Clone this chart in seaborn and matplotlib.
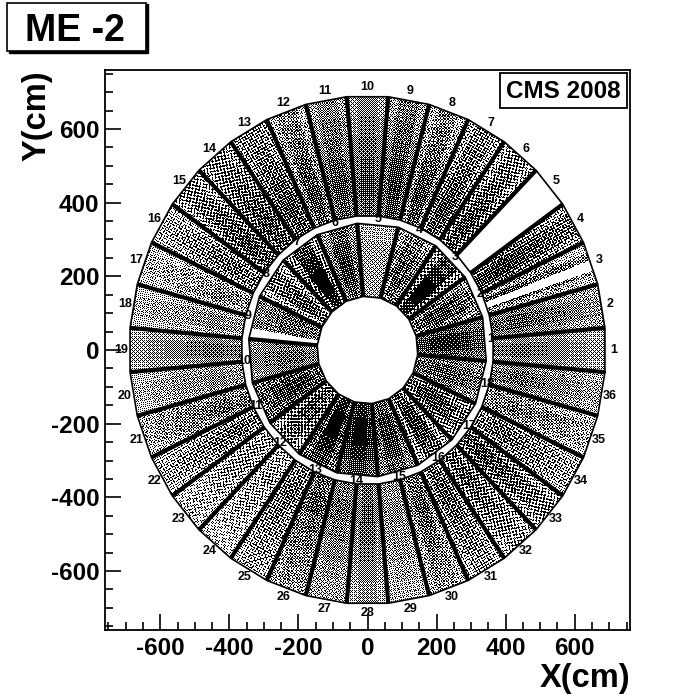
# ME -2 station occupancy, chamber rings drawn from per-chamber hit levels
import numpy as np
import pandas as pd
import matplotlib
matplotlib.use("Agg")
import matplotlib.pyplot as plt
from matplotlib.colors import ListedColormap
from matplotlib.patches import Rectangle
from matplotlib.ticker import MultipleLocator
import seaborn as sns

AX_LIMIT = 760
TICKS = [-600, -400, -200, 0, 200, 400, 600]

# ring geometry (cm)
OUTER_R_MAX = 690
OUTER_R_MIN = 365
INNER_R_MAX = 345
INNER_R_MIN = 146

# fraction of black per chamber: edges of the chamber and its central strip
outer_side = [.42, .45, .35, .50, 0, .45, .45, .42, .50, .50, .50, .42,
              .52, .50, .45, .38, .30, .30, .40, .35, .42, .38, .30, .28,
              .42, .50, .45, .42, .38, .40, .42, .42, .45, .42, .38, .42]
outer_core = [.50, .55, .60, .70, 0, .60, .65, .60, .70, .60, .60, .62,
              .65, .62, .60, .50, .40, .40, .50, .42, .50, .50, .38, .35,
              .50, .55, .50, .55, .42, .55, .55, .58, .62, .50, .48, .50]
inner_side = [.60, .50, .50, .45, .35, .50, .50, .35, .55,
              .50, .60, .45, .60, .70, .55, .40, .50, .50]
inner_core = [.75, .65, .85, .60, .35, .70, .85, .60, .55,
              .55, .70, .60, .85, .85, .70, .70, .65, .60]

# relative occupancy along a chamber, from the beam side to the rim
outer_bands = [1.1, 1.2, 1.1, 1.0, .9, .8]
inner_bands = [1.0, 1.15, 1.15, 1.05, .9]

# dead strips (degrees) seen as white wedges
outer_dead = [(18.3, 20.7)]
inner_dead = [(170, 175)]

sns.set_style("ticks")
plt.rcParams["font.family"] = ["Liberation Sans", "DejaVu Sans"]
plt.rcParams["font.weight"] = "bold"
plt.rcParams["text.color"] = "black"
plt.rcParams["xtick.color"] = "black"
plt.rcParams["ytick.color"] = "black"
plt.rcParams["axes.unicode_minus"] = False

fig = plt.figure(figsize=(7, 7), dpi=100, facecolor="white")
position = [105 / 700, 70 / 700, 525 / 700, 560 / 700]

# pixel grid of the axes, top row first as in a heatmap
nx, ny = 525, 560
cols, rows = np.meshgrid(np.arange(nx), np.arange(ny))
xx = -AX_LIMIT + (cols + .5) * 2 * AX_LIMIT / nx
yy = AX_LIMIT - (rows + .5) * 2 * AX_LIMIT / ny
rr = np.hypot(xx, yy)
tt = np.degrees(np.arctan2(yy, xx)) % 360

bayer = (np.array([[0, 8, 2, 10], [12, 4, 14, 6], [3, 11, 1, 9], [15, 7, 13, 5]]) + .5) / 16


def ring_hits(n, r_min, r_max, side, core, bands, dead):
    # black or white pixels of one ring: an ordered dither turned with each chamber
    width = 360 / n
    idx = np.floor(((tt + 5) % 360) / width).astype(int)
    local = (tt + 5) % 360 - idx * width - width / 2
    proj = rr * np.cos(np.radians(local))
    apo = np.cos(np.radians(width / 2))
    inside = (proj >= r_min * apo) & (proj <= r_max * apo)
    levels = np.where(np.abs(local) < width / 4, np.array(core)[idx], np.array(side)[idx])
    band = np.clip((proj / apo - r_min) / (r_max - r_min) * len(bands), 0, len(bands) - 1).astype(int)
    levels = levels * np.array(bands)[band]
    for lo, hi in dead:
        levels = np.where((tt >= lo) & (tt <= hi), 0, levels)
    centre = np.radians(idx * width + width / 2 - 5)
    u = np.floor(cols * np.cos(centre) - rows * np.sin(centre)).astype(int) % 4
    v = np.floor(cols * np.sin(centre) + rows * np.cos(centre)).astype(int) % 4
    return inside & (levels > bayer[v, u])


hits = ring_hits(36, OUTER_R_MIN, OUTER_R_MAX, outer_side, outer_core, outer_bands, outer_dead)
hits = hits | ring_hits(18, INNER_R_MIN, INNER_R_MAX, inner_side, inner_core, inner_bands, inner_dead)

hit_ax = fig.add_axes(position)
sns.heatmap(hits.astype(int), ax=hit_ax, cmap=ListedColormap(["white", "black"]), vmin=0, vmax=1,
            cbar=False, xticklabels=False, yticklabels=False, antialiased=False)
hit_ax.set_axis_off()

ax = fig.add_axes(position)
ax.patch.set_alpha(0)


def corners(n, radius):
    angles = -5 + np.arange(n) * 360 / n
    return radius * np.cos(np.radians(angles)), radius * np.sin(np.radians(angles))


# thin rims, one polyline per ring edge
rim_rows = []
for name, n, radius in [("outer", 36, OUTER_R_MAX), ("outer_in", 36, OUTER_R_MIN),
                        ("inner", 18, INNER_R_MAX), ("hole", 18, INNER_R_MIN)]:
    cx, cy = corners(n, radius)
    for x, y in zip(np.r_[cx, cx[0]], np.r_[cy, cy[0]]):
        rim_rows.append({"edge": name, "x": x, "y": y})
sns.lineplot(data=pd.DataFrame(rim_rows), x="x", y="y", units="edge", estimator=None,
             sort=False, color="black", lw=1.2, ax=ax, legend=False)

# thick spokes between the chambers
spoke_rows = []
for n, r_min, r_max in [(36, OUTER_R_MIN, OUTER_R_MAX), (18, INNER_R_MIN, INNER_R_MAX)]:
    c_in, s_in = corners(n, r_min)
    c_out, s_out = corners(n, r_max)
    for i in range(n):
        key = f"{n}_{i}"
        spoke_rows.append({"spoke": key, "x": c_in[i], "y": s_in[i]})
        spoke_rows.append({"spoke": key, "x": c_out[i], "y": s_out[i]})
sns.lineplot(data=pd.DataFrame(spoke_rows), x="x", y="y", units="spoke", estimator=None,
             sort=False, color="black", lw=3, solid_capstyle="butt", ax=ax, legend=False)

# chamber numbers
for i in range(36):
    a = np.radians(10 * i)
    ax.text(713 * np.cos(a), 713 * np.sin(a), str(i + 1), ha="center", va="center", fontsize=9)
for i in range(18):
    a = np.radians(5 + 20 * i)
    ax.text(358 * np.cos(a), 358 * np.sin(a), str(i + 1), ha="center", va="center", fontsize=9)

ax.set_xlim(-AX_LIMIT, AX_LIMIT)
ax.set_ylim(-AX_LIMIT, AX_LIMIT)
ax.set_xticks(TICKS)
ax.set_yticks(TICKS)
ax.xaxis.set_minor_locator(MultipleLocator(50))
ax.yaxis.set_minor_locator(MultipleLocator(50))
ax.tick_params(axis="both", which="major", direction="in", length=11.5, width=1.2, labelsize=17.5)
ax.tick_params(axis="both", which="minor", direction="in", length=6, width=1.2)
ax.tick_params(axis="x", which="major", pad=5)
ax.tick_params(axis="y", which="major", pad=4)
for spine in ax.spines.values():
    spine.set_linewidth(1.3)
    spine.set_color("black")
ax.set_xlabel("")
ax.set_ylabel("")

fig.text(630 / 700, 1 - 679 / 700, "X(cm)", ha="right", va="center", fontsize=23.5)
fig.text(37 / 700, 1 - 70 / 700, "Y(cm)", ha="center", va="top", rotation=90, fontsize=23.5)

# title pave with its shadow, and the CMS pave inside the frame
fig.add_artist(Rectangle((9 / 700, 1 - 53 / 700), 139 / 700, 49 / 700, transform=fig.transFigure,
                         fc="black", ec="black", lw=1))
fig.add_artist(Rectangle((7 / 700, 1 - 51 / 700), 139 / 700, 48 / 700, transform=fig.transFigure,
                         fc="white", ec="black", lw=1.2))
fig.text(75 / 700, 1 - 31 / 700, "ME -2", ha="center", va="center", fontsize=27)
fig.add_artist(Rectangle((500 / 700, 1 - 108 / 700), 127 / 700, 35 / 700, transform=fig.transFigure,
                         fc="white", ec="black", lw=1.3))
fig.text(563 / 700, 1 - 91 / 700, "CMS 2008", ha="center", va="center", fontsize=17.5)

fig.savefig("out.png", dpi=100, facecolor="white")
